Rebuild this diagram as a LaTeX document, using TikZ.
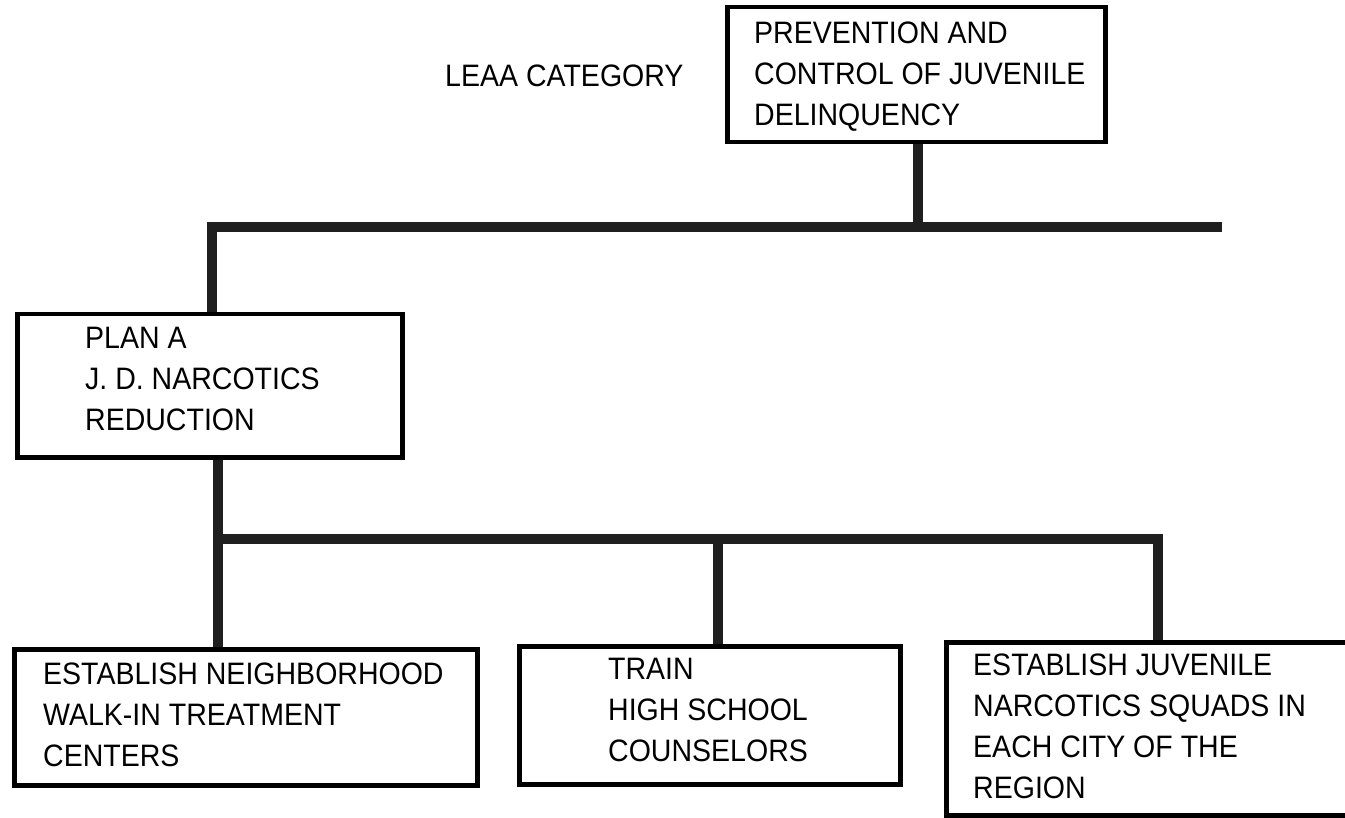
\documentclass[tikz,border=0pt]{standalone}
\usepackage{fontspec}
\setmainfont{Liberation Sans}[FakeStretch=0.92]
\begin{document}
\begin{tikzpicture}[x=1pt,y=-1pt,
  box/.style={draw=black, line width=4.5pt, rectangle, inner sep=0pt, anchor=north west},
  txt/.style={anchor=north west, inner sep=0pt, align=left, font=\fontsize{31}{41}\selectfont},
  bar/.style={draw=black!88, line width=10pt, line join=miter, line cap=butt}]
\useasboundingbox (0,0) rectangle (1345,818);
% boxes
\node[box, minimum width=378pt, minimum height=135pt] (top) at (725,5) {};
\node[box, minimum width=385pt, minimum height=143pt] (plan) at (15,312) {};
\node[box, minimum width=463pt, minimum height=136pt] (b1) at (12,647) {};
\node[box, minimum width=381pt, minimum height=138pt] (b2) at (517,644) {};
\node[box, minimum width=420pt, minimum height=173pt] (b3) at (944,640) {};
% texts
\node[txt] (cat) at (445,65) {LEAA CATEGORY};
\node[txt] (toptxt) at (754,22) {PREVENTION AND\\CONTROL OF JUVENILE\\DELINQUENCY};
\node[txt] (plantxt) at (85,327) {PLAN A\\J. D. NARCOTICS\\REDUCTION};
\node[txt] (b1txt) at (43,663) {ESTABLISH NEIGHBORHOOD\\WALK-IN TREATMENT\\CENTERS};
\node[txt] (b2txt) at (608,658) {TRAIN\\HIGH SCHOOL\\COUNSELORS};
\node[txt] (b3txt) at (973,654) {ESTABLISH JUVENILE\\NARCOTICS SQUADS IN\\EACH CITY OF THE\\REGION};
% connector coordinates
\coordinate (j1) at (918,227);
\coordinate (l1) at (212,227);
\coordinate (r1) at (1222,227);
\coordinate (l2) at (218,539);
\coordinate (m2) at (718,539);
\coordinate (r2) at (1158,539);
% connectors
\draw[bar] (j1 |- top.south) -- (j1);
\draw[bar] (r1) -- (l1) -- (l1 |- plan.north);
\draw[bar] (l2 |- plan.south) -- (l2 |- b1.north);
\draw[bar] (l2) -- (r2) -- (r2 |- b3.north);
\draw[bar] (m2) -- (m2 |- b2.north);
\end{tikzpicture}
\end{document}
